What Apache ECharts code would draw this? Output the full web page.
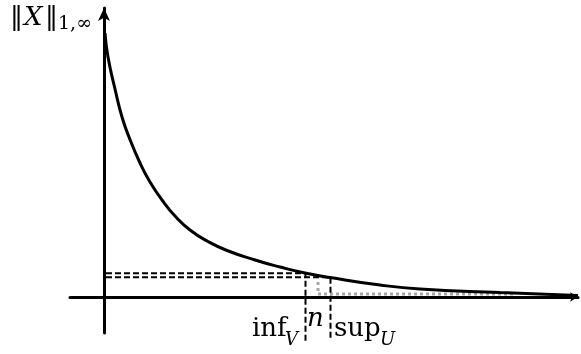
<!DOCTYPE html>
<html>
<head>
<meta charset="utf-8">
<script src="https://cdn.jsdelivr.net/npm/echarts@6/dist/echarts.min.js"></script>
<style>html,body{margin:0;padding:0;background:#fff}#c{width:581px;height:354px}</style>
</head>
<body>
<div id="c"></div>
<script>
// Decaying curve (x, y)
const curveX = [1, 4, 11, 18, 25, 36, 46, 58, 71, 86, 104, 123, 151, 176, 201, 226, 276, 316, 396, 474];
const curveY = [264, 240, 208, 180, 160, 134, 115, 97, 81, 67, 55.5, 46.5, 37, 30, 24, 19.5, 12, 8, 4.5, 1.5];
// Projections of two curve points (inf_V and sup_U)
const projX = [201.5, 226.5];
const projY = [23.7, 19.7];
const projBottom = [-45, -41];
// Gray dotted path (n)
const dotX = [214, 214, 411];
const dotY = [15, 3, 3];
// Axis extents
const xRange = [-34, 474];
const yRange = [-36, 289];

const curve = curveX.map((x, i) => [x, curveY[i]]);
const dash1 = [[2, projY[0]], [projX[0], projY[0]], [projX[0], projBottom[0]]];
const dash2 = [[2, projY[1]], [projX[1], projY[1]], [projX[1], projBottom[1]]];
const dotted = dotX.map((x, i) => [x, dotY[i]]);

const chart = echarts.init(document.getElementById('c'));
const axisCommon = {
  type: 'value',
  axisTick: {show: false},
  axisLabel: {show: false},
  splitLine: {show: false},
};
const F = 'DejaVu Serif';
chart.setOption({
  animation: false,
  backgroundColor: '#fff',
  grid: {left: 70, right: 3, top: 8, bottom: 21},
  xAxis: Object.assign({}, axisCommon, {
    min: xRange[0], max: xRange[1],
    axisLine: {onZero: true, symbol: ['none', 'arrow'], symbolSize: [7, 8], lineStyle: {color: '#000', width: 3}}
  }),
  yAxis: Object.assign({}, axisCommon, {
    min: yRange[0], max: yRange[1],
    axisLine: {onZero: true, symbol: ['none', 'arrow'], symbolSize: [9, 13], lineStyle: {color: '#000', width: 3}}
  }),
  series: [
    {type: 'line', data: dotted, showSymbol: false, clip: false, z: 2,
     lineStyle: {color: '#a6a6a6', width: 3, type: [3, 3]}},
    {type: 'line', data: dash1, showSymbol: false, clip: false, z: 3,
     lineStyle: {color: '#000', width: 2, type: [6, 3]}},
    {type: 'line', data: dash2, showSymbol: false, clip: false, z: 3,
     lineStyle: {color: '#000', width: 2, type: [6, 3]}},
    {type: 'line', data: curve, smooth: 0.5, showSymbol: false, clip: false, z: 4,
     lineStyle: {color: '#000', width: 3}}
  ],
  graphic: [
    {type: 'text', left: 10, top: 5, style: {text: '‖', font: '26px "' + F + '"', fill: '#000'}},
    {type: 'text', left: 24, top: 5, style: {text: 'X', font: 'italic 26px "' + F + '"', fill: '#000'}},
    {type: 'text', left: 45, top: 5, style: {text: '‖', font: '26px "' + F + '"', fill: '#000'}},
    {type: 'text', left: 58, top: 15, style: {text: '1,∞', font: '19px "' + F + '"', fill: '#000'}},
    {type: 'text', left: 252, top: 316, style: {text: 'inf', font: '26px "' + F + '"', fill: '#000'}},
    {type: 'text', left: 285, top: 331, style: {text: 'V', font: 'italic 18px "' + F + '"', fill: '#000'}},
    {type: 'text', left: 307, top: 306, style: {text: 'n', font: 'italic 26px "' + F + '"', fill: '#000'}},
    {type: 'text', left: 334, top: 316, style: {text: 'sup', font: '26px "' + F + '"', fill: '#000'}},
    {type: 'text', left: 380, top: 331, style: {text: 'U', font: 'italic 18px "' + F + '"', fill: '#000'}}
  ]
});
</script>
</body>
</html>
